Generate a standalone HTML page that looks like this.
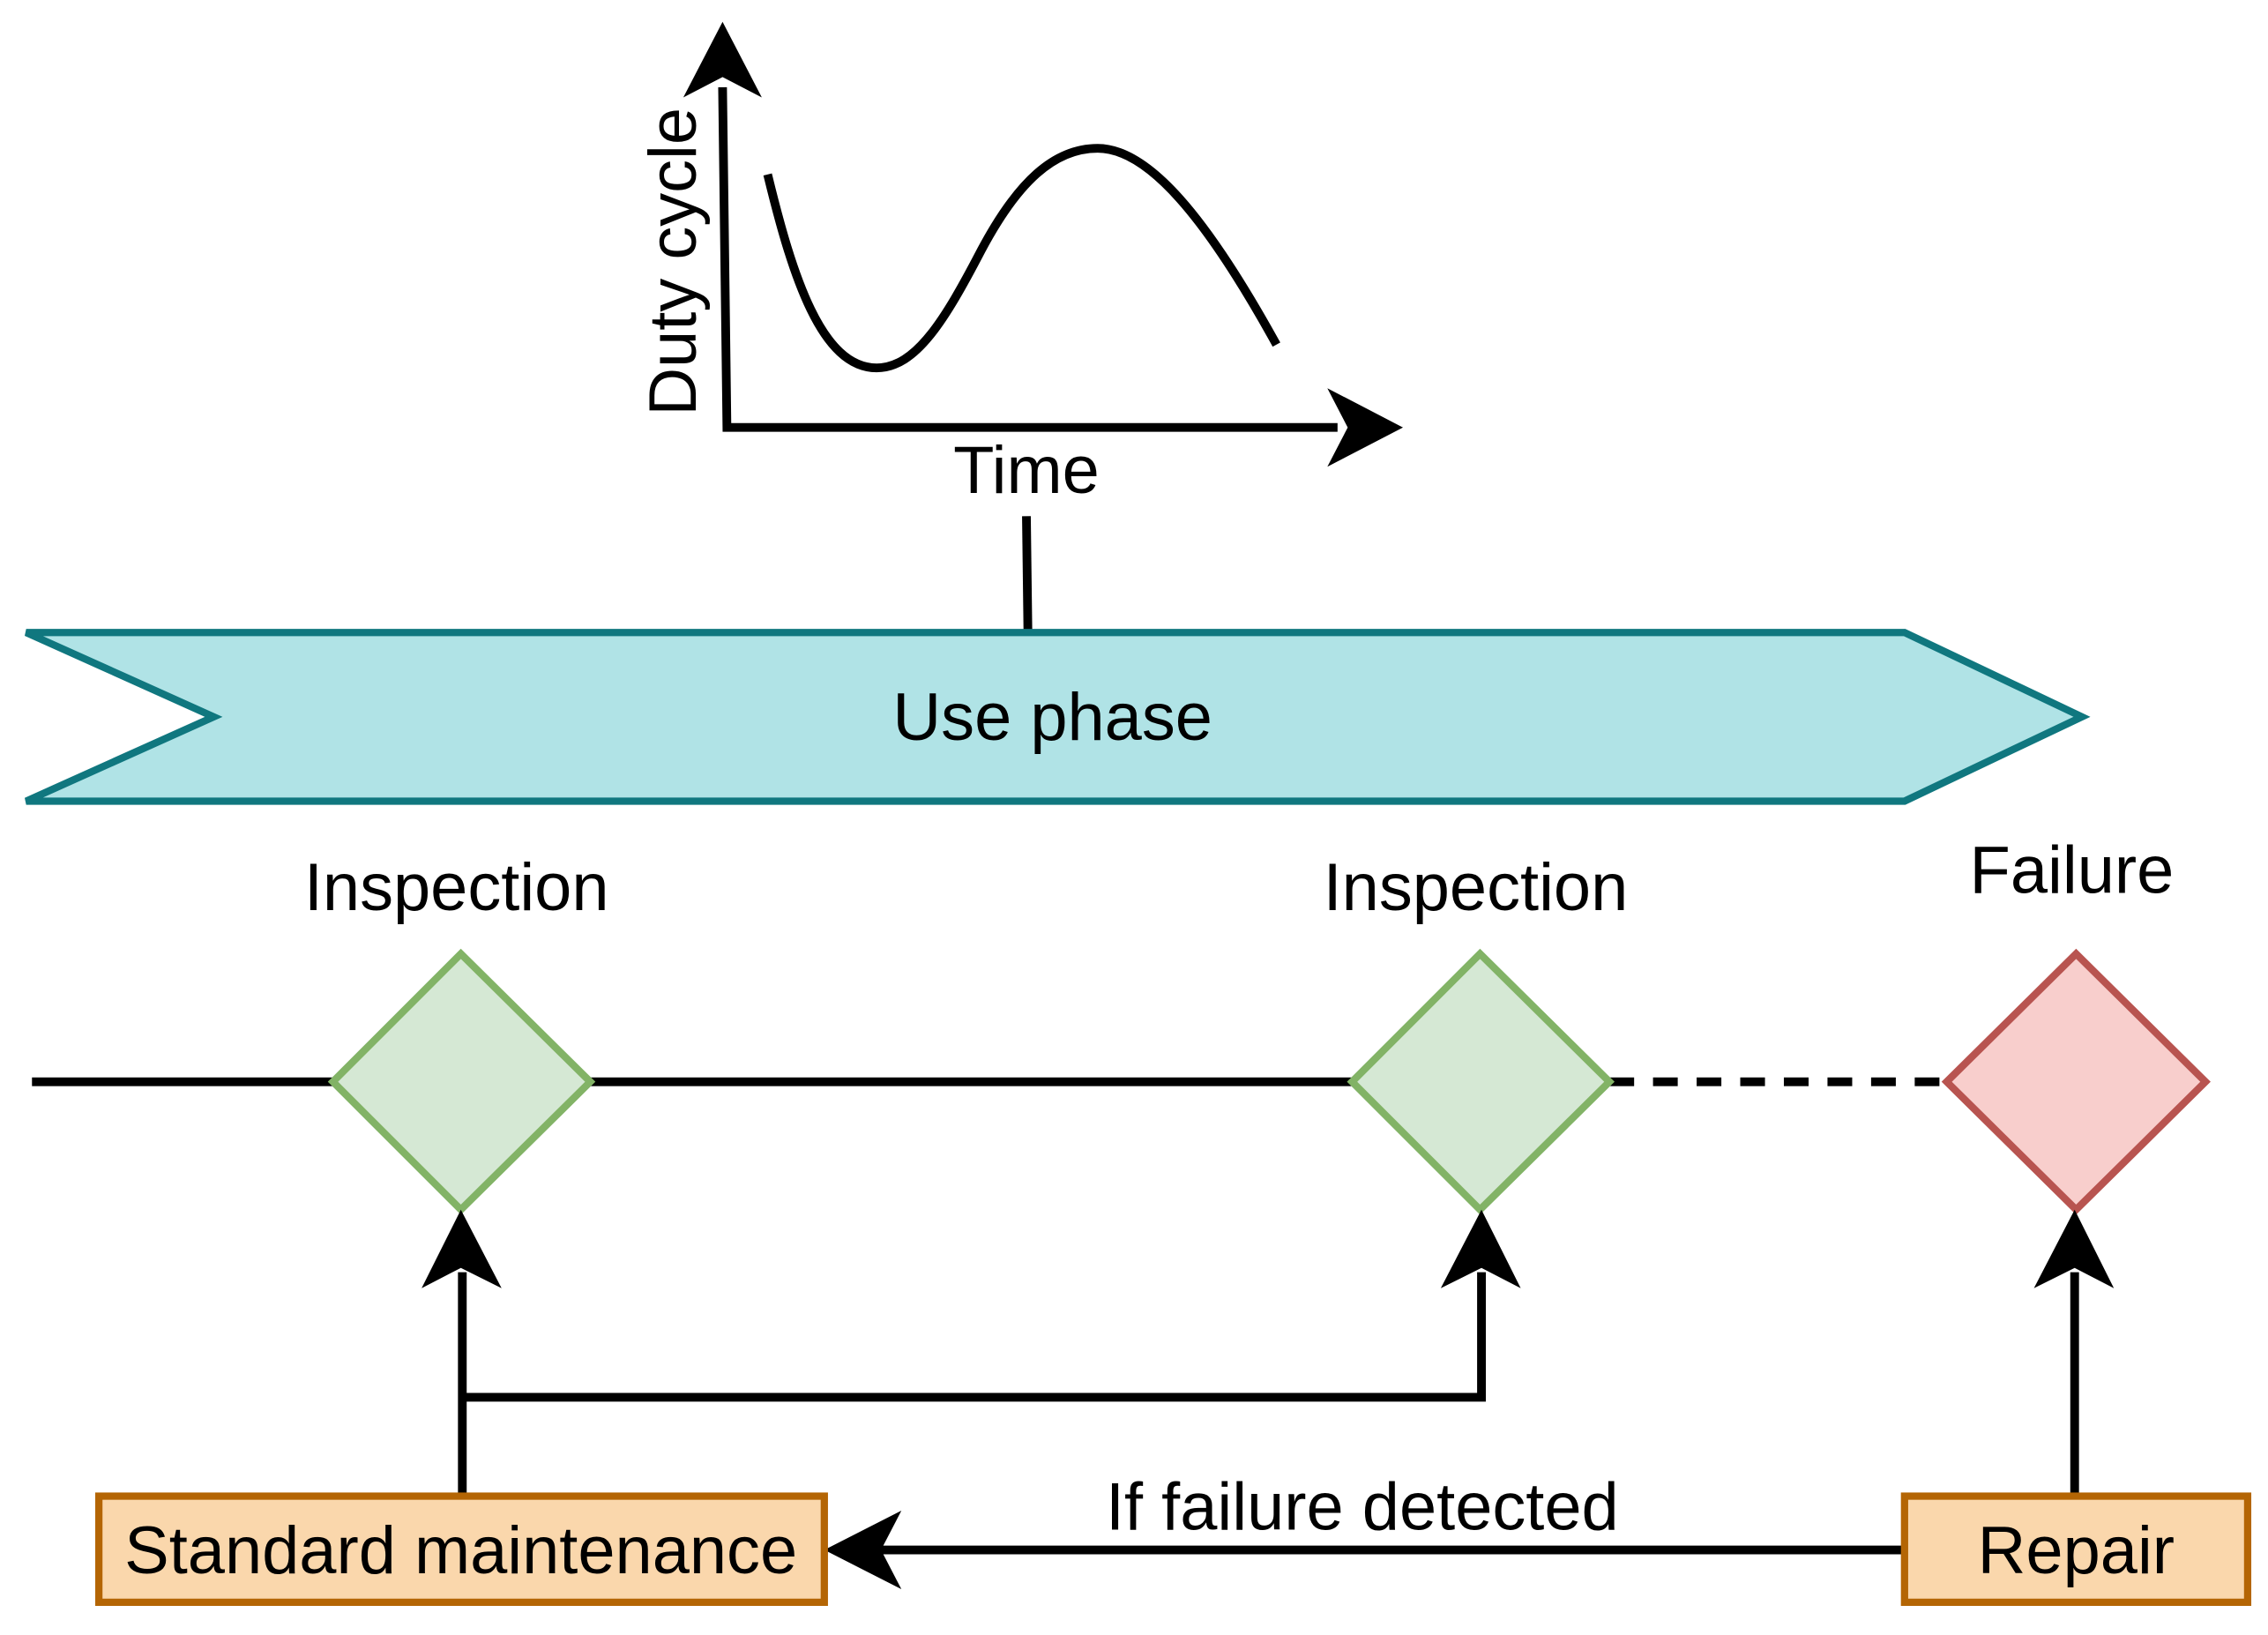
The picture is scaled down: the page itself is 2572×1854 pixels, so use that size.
<!DOCTYPE html>
<html><head><meta charset="utf-8"><style>html,body{margin:0;padding:0;background:#fff}svg{display:block}</style></head>
<body>
<svg width="2572" height="1854" viewBox="0 0 1560 1124.5" xmlns="http://www.w3.org/2000/svg" font-family="Liberation Sans, Arial, sans-serif" font-size="46">
<rect width="1560" height="1124.5" fill="#fff"/>
<!-- chart axes -->
<path d="M497,60 L500,294 L920,294" fill="none" stroke="#000" stroke-width="6"/>
<path d="M497,15 L524,67 L497,53 L470,67 Z" fill="#000"/>
<path d="M965,294 L913,321 L927,294 L913,267 Z" fill="#000"/>
<path d="M528,120 C545,190 565,253 603,253 C630,253 650,220 675,172 C700,125 725,102 755,102 C790,102 830,150 878,237" fill="none" stroke="#000" stroke-width="6"/>
<text x="463" y="180" text-anchor="middle" dominant-baseline="central" transform="rotate(-90 463 180)">Duty cycle</text>
<text x="706" y="339" text-anchor="middle">Time</text>
<line x1="706" y1="355" x2="707" y2="433" stroke="#000" stroke-width="6"/>
<!-- chevron -->
<polygon points="18,435 1310,435 1432,493 1310,551 18,551 147,493" fill="#b0e3e6" stroke="#10777f" stroke-width="5"/>
<text x="724" y="509" text-anchor="middle">Use phase</text>
<!-- timeline -->
<line x1="22" y1="744" x2="229" y2="744" stroke="#000" stroke-width="6"/>
<line x1="406" y1="744" x2="930" y2="744" stroke="#000" stroke-width="6"/>
<line x1="1107" y1="744" x2="1339" y2="744" stroke="#000" stroke-width="6" stroke-dasharray="17,13"/>
<polygon points="317,656 406,744 317,832 229,744" fill="#d5e8d4" stroke="#82b366" stroke-width="5"/>
<polygon points="1018,656 1107,744 1018,832 930,744" fill="#d5e8d4" stroke="#82b366" stroke-width="5"/>
<polygon points="1428,656 1517,744 1428,832 1339,744" fill="#f8cecc" stroke="#b85450" stroke-width="5"/>
<text x="314" y="626" text-anchor="middle">Inspection</text>
<text x="1015" y="626" text-anchor="middle">Inspection</text>
<text x="1425" y="614" text-anchor="middle">Failure</text>
<!-- connectors -->
<path d="M318,1029 L318,875" fill="none" stroke="#000" stroke-width="6"/>
<path d="M318,961 L1019,961 L1019,875" fill="none" stroke="#000" stroke-width="6"/>
<path d="M1427,1029 L1427,875" fill="none" stroke="#000" stroke-width="6"/>
<path d="M317,832 L345,886 L317,872 L290,886 Z" fill="#000"/>
<path d="M1019,832 L1046,886 L1019,872 L991,886 Z" fill="#000"/>
<path d="M1427,832 L1454,886 L1427,872 L1399,886 Z" fill="#000"/>
<line x1="1310" y1="1066" x2="605" y2="1066" stroke="#000" stroke-width="6"/>
<path d="M567,1066 L620,1039 L606,1066 L620,1093 Z" fill="#000"/>
<text x="937" y="1052" text-anchor="middle">If failure detected</text>
<!-- boxes -->
<rect x="68" y="1029" width="499" height="73" fill="#fad7ac" stroke="#b46504" stroke-width="5"/>
<text x="317" y="1082" text-anchor="middle">Standard maintenance</text>
<rect x="1310" y="1029" width="236" height="73" fill="#fad7ac" stroke="#b46504" stroke-width="5"/>
<text x="1428" y="1082" text-anchor="middle">Repair</text>
</svg>
</body></html>
